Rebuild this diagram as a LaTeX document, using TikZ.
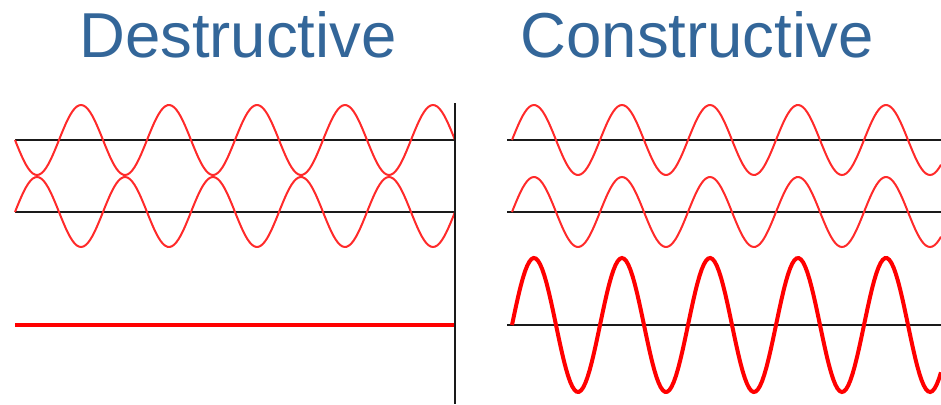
\documentclass[tikz,border=0pt]{standalone}
\usepackage{fontspec}
\setmainfont{Liberation Sans}
\definecolor{titleblue}{HTML}{336699}
\definecolor{thinred}{HTML}{FF2A2A}
\definecolor{axisblack}{HTML}{1A1A1A}
\usetikzlibrary{positioning}

\begin{document}
\begin{tikzpicture}[x=1pt, y=-1pt,
  heading/.style={text=titleblue, font=\fontsize{63.5}{70}\selectfont, anchor=base, inner sep=0pt},
  axis/.style={draw=axisblack, line width=2.4pt},
  wave/.style={draw=thinred, line width=2pt, samples=200},
  bigwave/.style={draw=red, line width=4pt, samples=200}]
\useasboundingbox (0,0) rectangle (941,404);
% titles
\node[heading] (destr) at (238,57) {Destructive};
\node[heading] (constr) at (697,57) {Constructive};
% destructive side
\draw[axis] (15,140) -- (455,140);
\draw[axis] (15,212) -- (455,212);
\draw[wave] plot[domain=0:440] ({15+\x}, {140+35*sin(\x*4.0909)});
\draw[wave] plot[domain=0:440] ({15+\x}, {212-35*sin(\x*4.0909)});
\draw[draw=red, line width=3.6pt] (15,325) -- (455,325);
\draw[axis] (455,103) -- (455,404);
% constructive side
\draw[axis] (507,140) -- (941,140);
\draw[axis] (507,212) -- (941,212);
\draw[axis] (507,325) -- (941,325);
\draw[wave] plot[domain=0:429] ({512+\x}, {140-35*sin(\x*4.0909)});
\draw[wave] plot[domain=0:429] ({512+\x}, {212-35*sin(\x*4.0909)});
\draw[bigwave] plot[domain=0:429] ({512+\x}, {325-67*sin(\x*4.0909)});
\end{tikzpicture}
\end{document}
